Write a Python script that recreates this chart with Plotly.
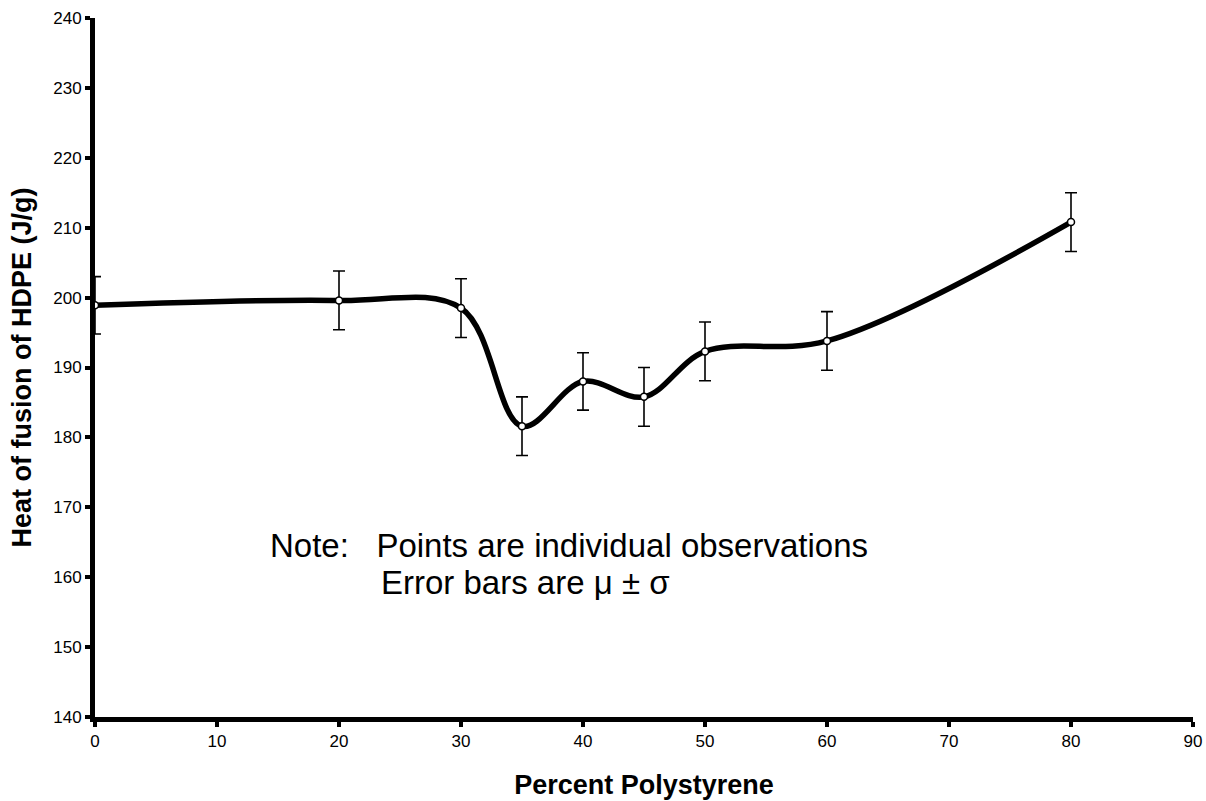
import plotly.graph_objects as go

percent_ps = [0, 20, 30, 35, 40, 45, 50, 60, 80]
heat_fusion = [198.9, 199.6, 198.5, 181.6, 188.0, 185.8, 192.3, 193.8, 210.8]
std_dev = [4.1, 4.2, 4.2, 4.2, 4.1, 4.2, 4.2, 4.2, 4.2]

x_ticks = [0, 10, 20, 30, 40, 50, 60, 70, 80, 90]
y_ticks = [140, 150, 160, 170, 180, 190, 200, 210, 220, 230, 240]

FONT = "Liberation Sans, Arial"

fig = go.Figure()
fig.add_trace(go.Scatter(
    x=percent_ps, y=heat_fusion, mode="lines",
    line=dict(color="black", width=5.5, shape="spline", smoothing=1.0),
    cliponaxis=False, hoverinfo="skip", showlegend=False,
))
fig.add_trace(go.Scatter(
    x=percent_ps, y=heat_fusion, mode="markers",
    marker=dict(size=7, color="white", line=dict(color="black", width=1.5)),
    error_y=dict(type="data", array=std_dev, visible=True, color="black",
                 thickness=1.6, width=6),
    cliponaxis=False, showlegend=False,
))

axis_common = dict(
    showline=True, linecolor="black", linewidth=5, mirror=False,
    ticks="outside", ticklen=5, tickwidth=4, tickcolor="black",
    showgrid=False, zeroline=False,
    tickfont=dict(family=FONT, size=17, color="black"),
)

fig.update_layout(
    width=1206, height=801,
    margin=dict(l=95, r=13, t=18, b=84),
    plot_bgcolor="white", paper_bgcolor="white",
    xaxis=dict(range=[0, 90], tickvals=x_ticks, ticktext=[str(v) for v in x_ticks],
               title=dict(text="<b>Percent Polystyrene</b>", standoff=26,
                          font=dict(family=FONT, size=27, color="black")),
               automargin=False, **axis_common),
    yaxis=dict(range=[140, 240], tickvals=y_ticks, ticktext=[str(v) for v in y_ticks],
               title=dict(text="<b>Heat of fusion of HDPE (J/g)</b>", standoff=15,
                          font=dict(family=FONT, size=27, color="black")),
               automargin=False, **axis_common),
)

# annotation positions given in pixels, converted to paper coords
L, R, T, B = 95, 1206 - 13, 18, 801 - 84
notes = [
    (268, 545, "Note:   Points are individual observations"),
    (379, 582, "Error bars are μ ± σ"),
]
for px, py, txt in notes:
    fig.add_annotation(
        x=(px - L) / (R - L), y=(B - py) / (B - T), xref="paper", yref="paper",
        text=txt, showarrow=False, xanchor="left", yanchor="middle",
        font=dict(family=FONT, size=33, color="black"),
    )

fig.write_html("out.html")
